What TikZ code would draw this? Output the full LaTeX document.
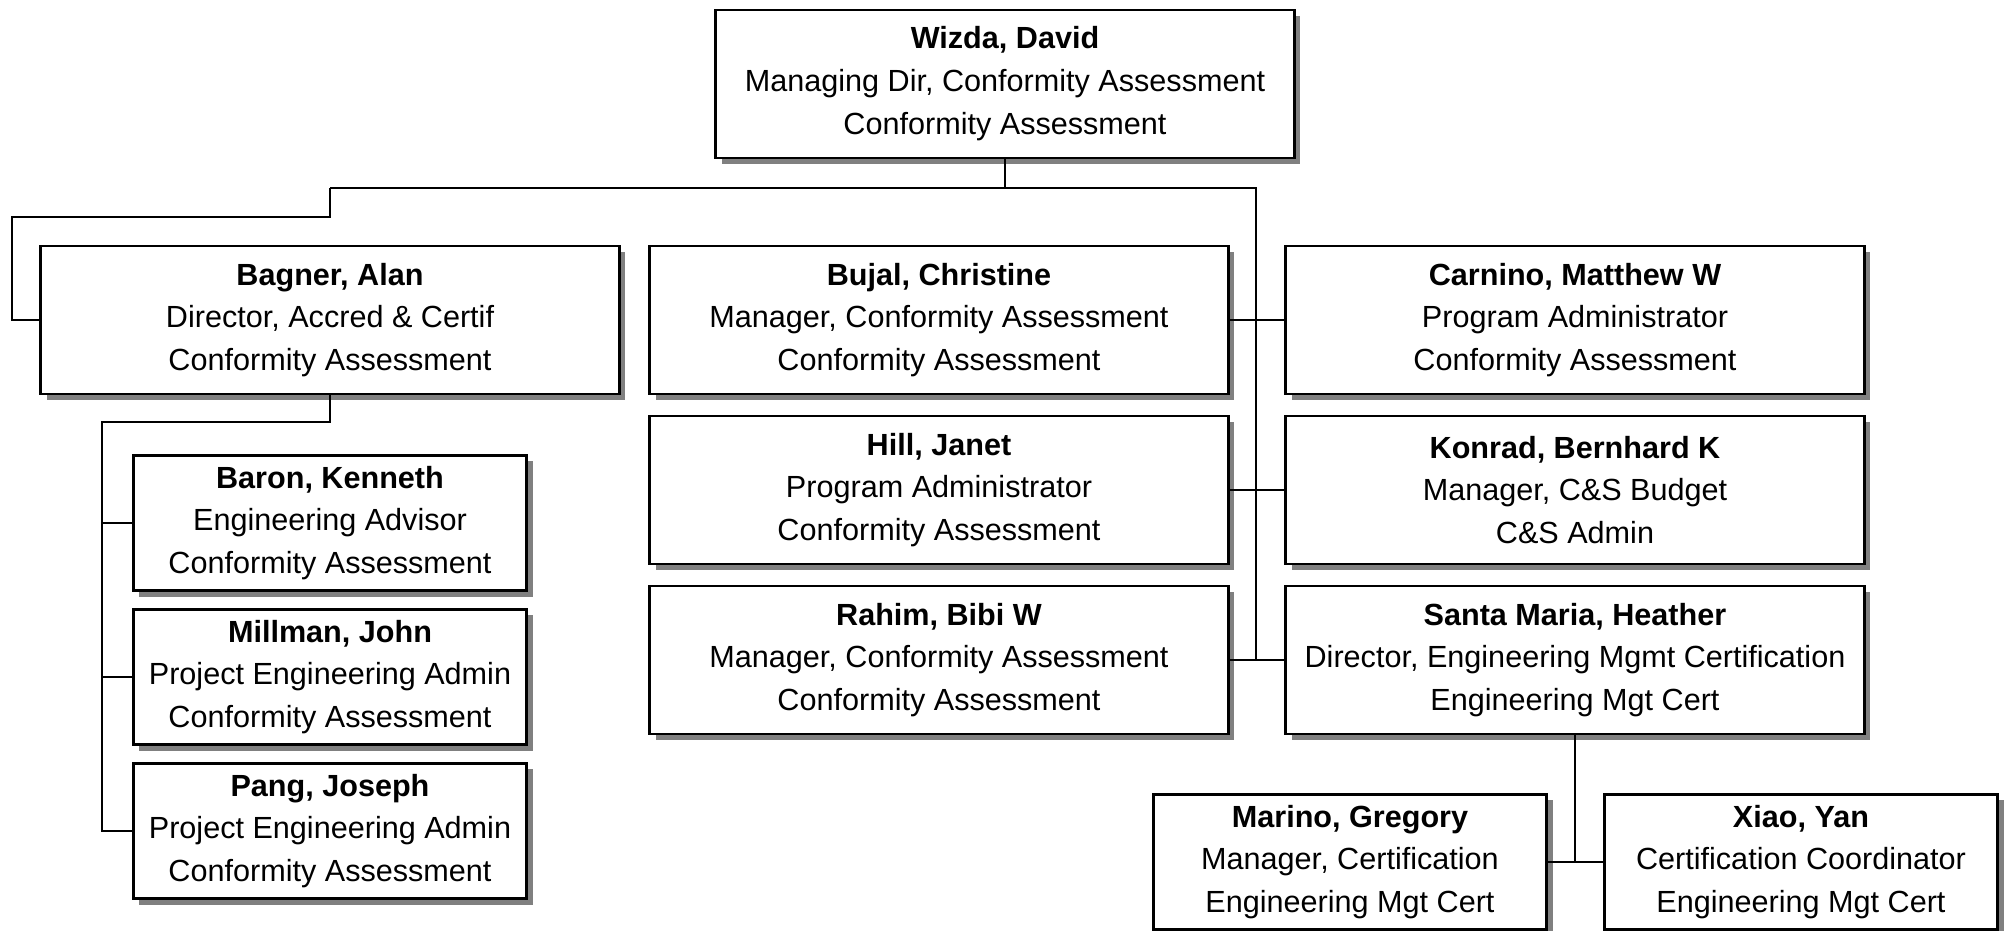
\documentclass[tikz,border=0pt]{standalone}
\usepackage{fontspec}
\setmainfont{Liberation Sans}
\usetikzlibrary{shadows}

\begin{document}
\begin{tikzpicture}[x=0.01cm, y=-0.01cm,
	box/.style={draw, line width=0.8pt, fill=white, align=center, inner sep=0pt,
		font=\fontsize{8.7}{12.2}\selectfont,
		drop shadow={shadow xshift=0.06cm, shadow yshift=-0.06cm, fill=black!50, opacity=1}},
	bigbox/.style={box, minimum width=5.78cm, minimum height=1.48cm},
	smallbox/.style={box, minimum width=3.93cm, minimum height=1.35cm},
	link/.style={line width=0.7pt}]
	\useasboundingbox (0,0) rectangle (2005,931);
	
	% top of the chart
	\node [bigbox] (wizda) at (1005,84) {\textbf{Wizda, David}\\Managing Dir, Conformity Assessment\\Conformity Assessment};
	
	% second level
	\node [bigbox] (bagner) at (330,320) {\textbf{Bagner, Alan}\\Director, Accred \& Certif\\Conformity Assessment};
	\node [bigbox] (bujal) at (939,320) {\textbf{Bujal, Christine}\\Manager, Conformity Assessment\\Conformity Assessment};
	\node [bigbox] (carnino) at (1575,320) {\textbf{Carnino, Matthew W}\\Program Administrator\\Conformity Assessment};
	\node [bigbox] (hill) at (939,490) {\textbf{Hill, Janet}\\Program Administrator\\Conformity Assessment};
	\node [bigbox] (konrad) at (1575,490) {\textbf{Konrad, Bernhard K}\\Manager, C\&S Budget\\C\&S Admin};
	\node [bigbox] (rahim) at (939,660) {\textbf{Rahim, Bibi W}\\Manager, Conformity Assessment\\Conformity Assessment};
	\node [bigbox] (santa) at (1575,660) {\textbf{Santa Maria, Heather}\\Director, Engineering Mgmt Certification\\Engineering Mgt Cert};
	
	% under Bagner
	\node [smallbox] (baron) at (330,523) {\textbf{Baron, Kenneth}\\Engineering Advisor\\Conformity Assessment};
	\node [smallbox] (millman) at (330,677) {\textbf{Millman, John}\\Project Engineering Admin\\Conformity Assessment};
	\node [smallbox] (pang) at (330,831) {\textbf{Pang, Joseph}\\Project Engineering Admin\\Conformity Assessment};
	
	% under Santa Maria
	\node [smallbox] (marino) at (1350,862) {\textbf{Marino, Gregory}\\Manager, Certification\\Engineering Mgt Cert};
	\node [smallbox] (xiao) at (1801,862) {\textbf{Xiao, Yan}\\Certification Coordinator\\Engineering Mgt Cert};
	
	% connector points
	\coordinate (busL) at (330,188);
	\coordinate (busR) at (1256,188);
	\coordinate (jog) at (330,217);
	\coordinate (farL) at (12,217);
	\coordinate (subbus) at (102,422);
	
	% draw the lines
	\draw [link] (wizda.south) -- (wizda.south |- busL);
	\draw [link] (busL) -- (busR) -- (busR |- rahim.east);
	\draw [link] (busL) -- (jog) -- (farL) |- (bagner.west);
	\draw [link] (bujal.east) -- (carnino.west);
	\draw [link] (hill.east) -- (konrad.west);
	\draw [link] (rahim.east) -- (santa.west);
	
	\draw [link] (bagner.south) |- (subbus) |- (pang.west);
	\draw [link] (subbus |- baron.west) -- (baron.west);
	\draw [link] (subbus |- millman.west) -- (millman.west);
	
	\draw [link] (santa.south) -- (santa.south |- marino.east);
	\draw [link] (marino.east) -- (xiao.west);
\end{tikzpicture}
\end{document}
